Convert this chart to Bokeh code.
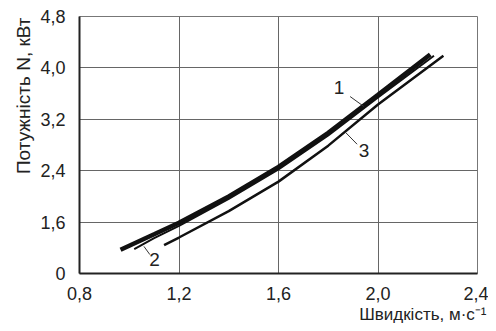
from bokeh.plotting import figure
from bokeh.models import FixedTicker, Range1d, Title, ColumnDataSource
from bokeh.core.properties import value
from bokeh.embed import file_html
from bokeh.resources import INLINE

# ---- data ----
speed_1 = [0.965, 1.1, 1.2, 1.4, 1.6, 1.8, 2.0, 2.21]
power_1 = [1.17, 1.41, 1.59, 2.00, 2.46, 2.99, 3.58, 4.21]

speed_2 = [1.02, 1.1, 1.2, 1.4, 1.6, 1.8, 2.0, 2.225]
power_2 = [1.18, 1.35, 1.54, 1.96, 2.42, 2.95, 3.54, 4.19]

speed_3 = [1.14, 1.2, 1.4, 1.6, 1.8, 2.0, 2.263]
power_3 = [1.24, 1.36, 1.77, 2.23, 2.79, 3.43, 4.19]

x_ticks = [0.8, 1.2, 1.6, 2.0, 2.4]
x_tick_labels = ["0,8", "1,2", "1,6", "2,0", "2,4"]
y_ticks = [0.8, 1.6, 2.4, 3.2, 4.0, 4.8]
y_tick_labels = ["0", "1,6", "2,4", "3,2", "4,0", "4,8"]

curve_names = ["1", "2", "3"]
label_x = [1.843, 1.102, 1.944]
label_y = [3.694, 1.017, 2.708]
leader_x0 = [1.888, 1.059, 1.871]
leader_y0 = [3.554, 1.222, 2.990]
leader_x1 = [1.943, 1.083, 1.916]
leader_y1 = [3.400, 1.094, 2.812]

x_title = "Швидкість, м·с⁻¹"
y_title = "Потужність N, кВт"

FONT = "Liberation Sans"

p = figure(width=488, height=323, output_backend="svg", toolbar_location=None,
           x_range=Range1d(0.8, 2.4), y_range=Range1d(0.8, 4.8),
           min_border_left=79, min_border_right=11, min_border_top=16, min_border_bottom=49)
p.background_fill_color = "white"
p.border_fill_color = "white"
p.outline_line_color = "#777777"
p.outline_line_width = 1

p.xaxis.ticker = FixedTicker(ticks=x_ticks)
p.yaxis.ticker = FixedTicker(ticks=y_ticks)
p.xaxis.major_label_overrides = dict(zip(x_ticks, x_tick_labels))
p.yaxis.major_label_overrides = dict(zip(y_ticks, y_tick_labels))
for ax in (p.xaxis, p.yaxis):
    ax.axis_line_color = "#222222"
    ax.axis_line_width = 2
    ax.major_tick_line_color = None
    ax.minor_tick_line_color = None
    ax.major_label_text_font = FONT
    ax.major_label_text_font_size = "18px"
    ax.major_label_text_color = "#222222"
p.xaxis.major_label_standoff = 7
p.yaxis.major_label_standoff = 8

p.xgrid.grid_line_color = "#666666"
p.ygrid.grid_line_color = "#666666"
p.xgrid.grid_line_width = 1
p.ygrid.grid_line_width = 1

p.line(speed_3, power_3, line_color="#111111", line_width=2.5, line_cap="butt")
p.line(speed_1, power_1, line_color="#111111", line_width=4.5, line_cap="butt")
p.line(speed_2, power_2, line_color="#111111", line_width=2, line_cap="butt")

p.segment(x0=leader_x0, y0=leader_y0, x1=leader_x1, y1=leader_y1,
          line_color="#333333", line_width=1)
src = ColumnDataSource(dict(x=label_x, y=label_y, t=curve_names))
p.text(x="x", y="y", text="t", source=src, text_font=value(FONT),
       text_font_size="19px", text_align="center", text_baseline="middle",
       text_color="#222222")

p.add_layout(Title(text=x_title, align="right", offset=-9, standoff=0,
                   text_font=FONT, text_font_size="17px", text_font_style="normal",
                   text_color="#222222"), "below")
p.add_layout(Title(text=y_title, align="right", offset=1, standoff=8,
                   text_font=FONT, text_font_size="19px", text_font_style="normal",
                   text_color="#222222"), "left")

open("out.html", "w").write(file_html(p, INLINE))
